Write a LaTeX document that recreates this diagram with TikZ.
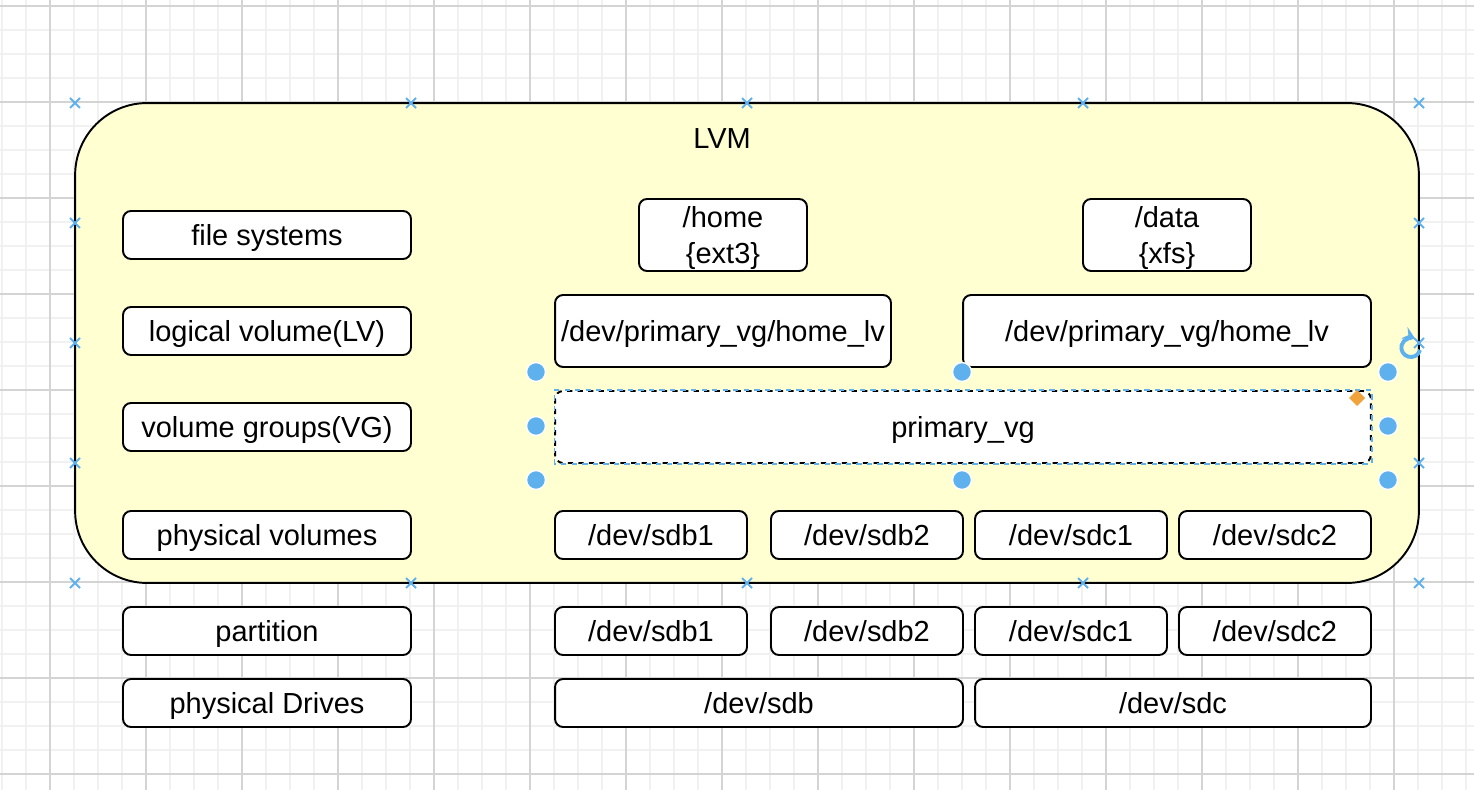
\documentclass[tikz,border=0pt]{standalone}
\usepackage{fontspec}
\setmainfont{Liberation Sans}
\usepackage{xcolor}
\definecolor{lvmyellow}{HTML}{FFFFD2}
\definecolor{handleblue}{HTML}{5FB1EE}
\definecolor{gridminor}{HTML}{F1F1F1}
\definecolor{gridmajor}{HTML}{D4D4D4}
\definecolor{handleorange}{HTML}{F0A33A}
\tikzstyle{box}=[draw, line width=1.1pt, rounded corners=0.16cm, fill=white, inner sep=0pt, align=center, text depth=0pt, font=\fontsize{16.5}{20}\selectfont]
\tikzstyle{handle}=[circle, fill=handleblue, draw=white, line width=0.8pt, minimum size=0.38cm, inner sep=0pt]
\tikzstyle{marker}=[handleblue, line width=1.1pt]

\begin{document}
\begin{tikzpicture}[x=0.02cm, y=-0.02cm]
    \useasboundingbox[fill=white] (0,0) rectangle (1474,790);
    % grid
    \foreach \x in {2,26,...,1474} \draw[gridminor, line width=1pt] (\x,0) -- (\x,790);
    \foreach \y in {6,30,...,790} \draw[gridminor, line width=1pt] (0,\y) -- (1474,\y);
    \foreach \x in {50,146,...,1474} \draw[gridmajor, line width=0.6pt] (\x,0) -- (\x,790);
    \foreach \y in {6,102,...,790} \draw[gridmajor, line width=0.6pt] (0,\y) -- (1474,\y);

    % container
    \node[draw, line width=1.1pt, fill=lvmyellow, rounded corners=1.44cm, minimum width=26.88cm, minimum height=9.6cm] (lvm) at (747,343) {};
    \node[font=\fontsize{16.5}{20}\selectfont, text depth=0pt] (title) at (722,139) {LVM};

    % layer names
    \node[box, minimum width=5.76cm, minimum height=0.96cm] (fs) at (267,235) {file systems};
    \node[box, minimum width=5.76cm, minimum height=0.96cm] (lv) at (267,331) {logical volume(LV)};
    \node[box, minimum width=5.76cm, minimum height=0.96cm] (vg) at (267,427) {volume groups(VG)};
    \node[box, minimum width=5.76cm, minimum height=0.96cm] (pv) at (267,535) {physical volumes};
    \node[box, minimum width=5.76cm, minimum height=0.96cm] (part) at (267,631) {partition};
    \node[box, minimum width=5.76cm, minimum height=0.96cm] (drive) at (267,703) {physical Drives};

    % file systems
    \node[box, minimum width=3.36cm, minimum height=1.44cm] (home) at (723,235) {/home\\\{ext3\}};
    \node[box, minimum width=3.36cm, minimum height=1.44cm] (data) at (1167,235) {/data\\\{xfs\}};
    % logical volumes
    \node[box, minimum width=6.72cm, minimum height=1.44cm] (homelv) at (723,331) {/dev/primary\_vg/home\_lv};
    \node[box, minimum width=8.16cm, minimum height=1.44cm] (datalv) at (1167,331) {/dev/primary\_vg/home\_lv};
    % volume group
    \node[box, dashed, minimum width=16.32cm, minimum height=1.44cm] (primvg) at (963,427) {primary\_vg};
    \draw[handleblue, dashed, line width=0.7pt] (primvg.south west) rectangle (primvg.north east);
    % physical volumes
    \node[box, minimum width=3.84cm, minimum height=0.96cm] (pvsdba) at (651,535) {/dev/sdb1};
    \node[box, minimum width=3.84cm, minimum height=0.96cm] (pvsdbb) at (867,535) {/dev/sdb2};
    \node[box, minimum width=3.84cm, minimum height=0.96cm] (pvsdca) at (1071,535) {/dev/sdc1};
    \node[box, minimum width=3.84cm, minimum height=0.96cm] (pvsdcb) at (1275,535) {/dev/sdc2};
    % partitions
    \node[box, minimum width=3.84cm, minimum height=0.96cm] (sdba) at (651,631) {/dev/sdb1};
    \node[box, minimum width=3.84cm, minimum height=0.96cm] (sdbb) at (867,631) {/dev/sdb2};
    \node[box, minimum width=3.84cm, minimum height=0.96cm] (sdca) at (1071,631) {/dev/sdc1};
    \node[box, minimum width=3.84cm, minimum height=0.96cm] (sdcb) at (1275,631) {/dev/sdc2};
    % drives
    \node[box, minimum width=8.16cm, minimum height=0.96cm] (sdb) at (759,703) {/dev/sdb};
    \node[box, minimum width=7.92cm, minimum height=0.96cm] (sdc) at (1173,703) {/dev/sdc};

    % selection handles
    \foreach \x/\y in {536/372, 536/426, 536/480, 962/372, 962/480, 1388/372, 1388/426, 1388/480}
        \node[handle] at (\x,\y) {};
    \foreach \x/\y in {75/103, 411/103, 747/103, 1083/103, 1419/103, 75/583, 411/583, 747/583, 1083/583, 1419/583, 75/223, 75/343, 75/463, 1419/223, 1419/343, 1419/463}
        \draw[marker] (\x,\y) +(-5,-5) -- +(5,5) +(-5,5) -- +(5,-5);
    \fill[handleorange] (1357,390) -- (1365,398) -- (1357,406) -- (1349,398) -- cycle;
    \draw[handleblue, line width=2.2pt, ->, >=stealth] (1420,350) arc[start angle=-15, end angle=-300, radius=0.19cm];

\end{tikzpicture}
\end{document}
